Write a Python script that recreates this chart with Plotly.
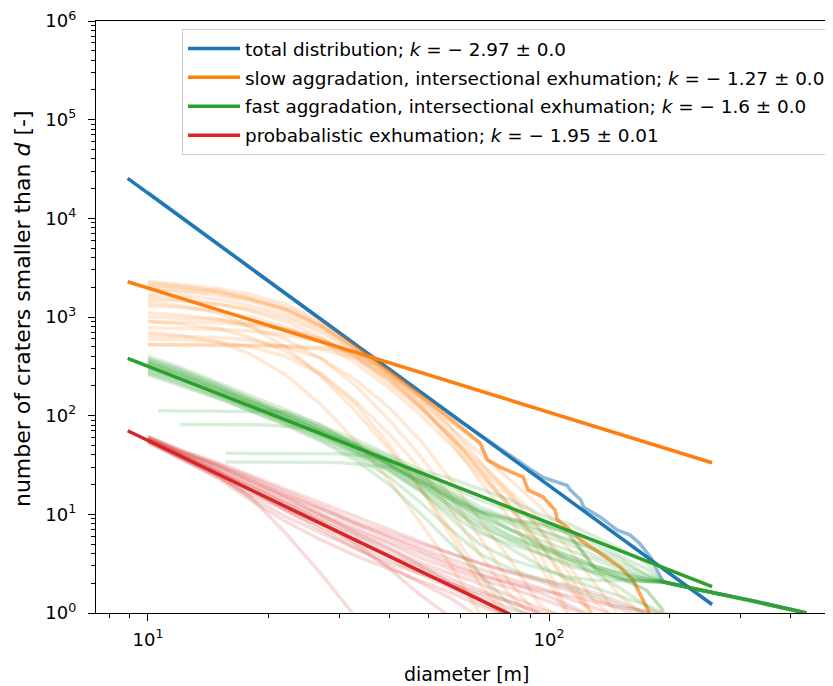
import plotly.graph_objects as go

# ---------------- fitted power-law lines (end points)
FIT_X = [8.9, 255]
FIT_TOTAL = [25400, 1.22]
FIT_SLOW = [2275, 33.3]
FIT_FAST = [381, 1.85]
FIT_PROB = [70.3, 0.101]

LABELS = [
    "total distribution; <i>k</i> = − 2.97 ± 0.0",
    "slow aggradation, intersectional exhumation; <i>k</i> = − 1.27 ± 0.0",
    "fast aggradation, intersectional exhumation; <i>k</i> = − 1.6 ± 0.0",
    "probabalistic exhumation; <i>k</i> = − 1.95 ± 0.01",
]

# ---------------- total distribution (single curve)
BLUE_X = [10, 15, 20, 30, 40, 50, 60, 70, 80, 90, 97, 105, 111, 113, 120, 122, 134,
          148, 159, 168, 179, 186, 193, 238, 317, 438]
BLUE_Y = [18300, 5400, 2300, 690, 290, 150, 88, 57, 39, 28.5, 23.5, 21, 19.6, 17.6, 14,
          11.8, 9.4, 6.9, 6.2, 5.1, 3.7, 2.7, 2.06, 1.71, 1.35, 1.0]

# ---------------- slow aggradation runs
ORANGE_HEAD_X = [10, 12, 15, 18, 22, 27, 33, 40, 48, 57]
ORANGE_TAIL_X = [67.3, 70.2, 75.5, 86.2, 88.7, 96.6, 103.6, 104.8, 110.9, 119.6, 134,
                 150.3, 161.9, 175.6, 178]
ORANGE_TAIL_Y = [52.7, 35.5, 30.1, 23.8, 17.6, 15.0, 11.0, 8.8, 7.4, 5.5, 4.05, 2.92,
                 2.16, 1.15, 1.0]
ORANGE_TAIL_HEADS = [
    [2300, 2150, 1950, 1700, 1350, 900, 520, 290, 165, 95],
    [2100, 2000, 1800, 1550, 1250, 850, 500, 280, 160, 92],
    [1900, 1800, 1650, 1450, 1150, 800, 480, 275, 158, 90],
    [1700, 1650, 1500, 1300, 1050, 750, 460, 270, 155, 88],
    [1500, 1450, 1350, 1200, 980, 700, 440, 260, 150, 86],
    [2000, 1900, 1750, 1500, 1200, 820, 490, 285, 162, 93],
]
ORANGE_X = [10, 12, 15, 18, 22, 27, 33, 40, 48, 57, 67, 80, 95, 112, 130, 150, 175]
ORANGE_RUNS = [
    [2200, 2050, 1850, 1550, 1200, 800, 470, 260, 140, 75, 42, 22, 12, 6, 3, 1.5, 0.9],
    [1600, 1500, 1350, 1150, 900, 620, 380, 210, 115, 60, 33, 17, 9, 4.5, 2, 0.9, None],
    [1300, 1250, 1150, 1000, 800, 560, 340, 190, 100, 50, 25, 12, 5, 2, 0.9, None, None],
    [1000, 980, 940, 870, 760, 600, 400, 230, 120, 60, 28, 12, 5, 1.8, 0.9, None, None],
    [900, 890, 870, 830, 750, 600, 420, 250, 130, 65, 30, 15, 7, 3, 1.3, 0.8, None],
    [780, 770, 750, 720, 660, 560, 400, 240, 125, 55, 22, 9, 3, 0.9, None, None, None],
    [650, 640, 620, 580, 500, 380, 230, 120, 55, 22, 9, 3.5, 1.2, 0.8, None, None, None],
    [530, 528, 525, 520, 510, 490, 440, 280, 150, 75, 35, 16, 7, 2.5, 0.9, None, None],
    [520, 518, 515, 510, 500, 470, 380, 230, 120, 60, 28, 12, 4, 1, None, None, None],
    [1400, 1300, 1100, 800, 500, 250, 110, 45, 18, 7, 2.5, 0.9, None, None, None, None, None],
    [700, 650, 560, 420, 260, 130, 55, 22, 8, 3, 1.0, None, None, None, None, None, None],
    [1100, 1050, 950, 800, 600, 380, 200, 90, 38, 15, 6, 2, 0.9, None, None, None, None],
    [900, 850, 760, 620, 450, 270, 140, 65, 28, 11, 4, 1.5, 0.8, None, None, None, None],
    [600, 590, 560, 500, 400, 260, 130, 50, 18, 6, 2, 0.8, None, None, None, None, None],
]

# ---------------- fast aggradation runs
GREEN_X = [10, 12, 15, 18, 22, 27, 33, 40, 48, 57, 67, 80, 95, 112, 130, 150, 175, 193,
           238, 317, 438]
GREEN_RUNS = [
    [400, 310, 215, 160, 115, 80, 57, 40, 28, 23, 18, 14, 10, 8, 6, 4.5, 3.2, 2.06, 1.71, 1.35, 1.0],
    [380, 295, 205, 150, 108, 76, 54, 38, 26, 19, 14, 11, 8.5, 6.5, 5, 3.8, 2.8, 2.06, 1.71, 1.35, 1.0],
    [360, 280, 195, 145, 104, 73, 51, 36, 25, 17, 12, 9, 7, 5.5, 4.3, 3.3, 2.5, 2.06, 1.71, 1.35, 1.0],
    [340, 265, 185, 138, 100, 70, 49, 34, 23, 15, 10.5, 8, 6.2, 5, 3.8, 3.0, 2.3, 2.06, 1.71, 1.35, 1.0],
    [330, 255, 180, 134, 97, 68, 47, 32, 22, 14, 9.5, 7, 5.5, 4.3, 3.5, 2.8, 2.2, 2.06, 1.71, 1.35, 1.0],
    [310, 245, 172, 128, 93, 65, 45, 31, 20, 13, 8.5, 6, 4.8, 3.8, 3.0, 2.5, 2.1, 2.06, 1.71, 1.35, 1.0],
    [300, 235, 165, 124, 90, 63, 43, 29, 18, 11, 7.5, 5.5, 4.5, 3.5, 2.8, 2.3, 2.1, 2.06, 1.71, 1.35, 1.0],
    [280, 220, 158, 118, 86, 60, 41, 27, 17, 10, 6.5, 5, 4, 3.2, 2.6, 2.2, 2.1, 2.06, 1.71, 1.35, 1.0],
    [350, 270, 190, 140, 100, 70, 48, 33, 22, 15, 11, 9, 8, 6.5, 2.8, 2.3, 1.7, 1.05, None, None, None],
    [345, 265, 186, 137, 98, 69, 47, 32, 21, 14, 10.5, 8.8, 7.8, 6.4, 2.8, 2.3, 1.7, 1.05, None, None, None],
    [260, 205, 150, 112, 80, 55, 35, 20, 10, 5, 2.5, 1.2, 0.8, None, None, None, None, None, None, None, None],
    [320, 250, 175, 130, 94, 66, 45, 30, 19, 12, 7, 4.5, 3, 2.2, 1.8, 1.5, 1.2, 1.0, None, None, None],
    [290, 228, 162, 120, 88, 62, 42, 28, 17, 9, 5, 3.5, 2.8, 2.3, 2.15, 2.1, 2.08, 2.06, 1.71, 1.35, 1.0],
    [270, 210, 150, 113, 82, 57, 38, 24, 13, 7, 4, 2.8, 2.2, 1.8, 1.5, 1.2, 1.0, None, None, None, None],
    [370, 290, 200, 148, 106, 75, 52, 36, 24, 16, 11, 8.5, 6.8, 5.5, 4.5, 3.6, 2.4, 2.06, 1.71, 1.35, 1.0],
]
GREEN_LATE_X = [
    [10.6, 22, 27, 33, 40, 48, 57, 67, 80, 95, 112, 150, 193, 238, 317, 438],
    [12.0, 19.3, 25, 33, 40, 57, 80, 112, 150, 193, 238, 317, 438],
    [15.6, 30, 38, 45, 57, 80, 112, 150, 193],
    [15.6, 30, 40, 50, 67, 95, 130, 175, 193, 238, 317, 438],
]
GREEN_LATE_Y = [
    [112, 110, 80, 50, 32, 20, 12, 8, 5.5, 4, 3, 2.2, 2.06, 1.71, 1.35, 1.0],
    [81.6, 81, 75, 50, 32, 14, 6, 3.5, 2.5, 2.06, 1.71, 1.35, 1.0],
    [41.5, 41, 38, 28, 16, 7, 3.5, 1.8, 0.9],
    [34, 33.5, 30, 20, 10, 5, 3, 2.2, 2.06, 1.71, 1.35, 1.0],
]

# ---------------- probabilistic exhumation runs
RED_X = [10, 12, 15, 18, 22, 27, 33, 40, 48, 57, 67, 80, 95, 112, 130, 150, 175, 240]
RED_RUNS = [
    [62, 45, 32, 24, 17, 12, 8.5, 6.5, 5, 4, 3.2, 2.6, 2.1, 1.7, 1.4, 1.1, 0.9, None],
    [60, 44, 31, 22, 15.5, 11, 8, 6, 4.5, 3.5, 2.8, 2.2, 1.8, 1.4, 1.1, 0.9, None, None],
    [58, 42, 29, 21, 14.5, 10, 7.2, 5.3, 4, 3, 2.4, 2, 1.6, 1.2, 0.9, None, None, None],
    [57, 41, 28, 20, 13.5, 9.5, 6.8, 5, 3.6, 2.8, 2.2, 1.8, 1.4, 1.1, 0.9, None, None, None],
    [56, 40, 27, 19, 13, 9, 6.2, 4.4, 3.2, 2.5, 2, 1.5, 1.1, 0.9, None, None, None, None],
    [55, 39, 26, 18, 12, 8.5, 6, 4, 3, 2.2, 1.7, 1.3, 1.0, 0.9, None, None, None, None],
    [54, 38, 25, 17, 11.5, 8, 5.5, 3.8, 2.8, 2, 1.5, 1.1, 0.9, None, None, None, None, None],
    [53, 37, 24, 16, 11, 7.5, 5, 3.5, 2.5, 1.8, 1.3, 0.9, None, None, None, None, None, None],
    [60, 43, 30, 22, 15, 10, 6.5, 4.5, 3, 2, 1.4, 0.9, None, None, None, None, None, None],
    [58, 41, 27, 18, 11, 7, 4.5, 3, 2, 1.4, 0.9, None, None, None, None, None, None, None],
    [56, 40, 25, 15, 6.5, 2.5, 0.9, None, None, None, None, None, None, None, None, None, None, None],
    [57, 40, 27, 19, 13, 8.5, 5, 2.8, 1.5, 0.9, None, None, None, None, None, None, None, None],
    [61, 45, 33, 25, 18, 13, 9.5, 7, 5.2, 4, 3.2, 2.6, 2.2, 1.9, 1.6, 1.3, 1.0, None],
    [55, 37, 23, 14, 8.5, 5.5, 3.8, 2.8, 2.1, 1.6, 1.2, 0.9, None, None, None, None, None, None],
    [56, 38, 24, 15, 9.5, 6.5, 4.5, 3.2, 2.5, 2, 1.6, 1.3, 1.0, None, None, None, None, None],
    [59, 43, 31, 23, 16, 11.5, 8, 5.8, 4.2, 3.2, 2.5, 2, 1.7, 1.5, 1.3, 1.15, 1.05, 0.9],
]

Y_TICKS = [1, 10, 100, 1000, 10000, 100000, 1000000]
Y_TICK_TEXT = ["10<sup>0</sup>", "10<sup>1</sup>", "10<sup>2</sup>", "10<sup>3</sup>",
               "10<sup>4</sup>", "10<sup>5</sup>", "10<sup>6</sup>"]
X_TICKS = [10, 100]
X_TICK_TEXT = ["10<sup>1</sup>", "10<sup>2</sup>"]

BLUE = "#1f77b4"
ORANGE = "#ff7f0e"
GREEN = "#2ca02c"
RED = "#d62728"
LW = 3.5

fig = go.Figure()


def run(x, y, color):
    fig.add_trace(go.Scatter(x=x, y=y, mode="lines", showlegend=False,
                             hoverinfo="skip",
                             line=dict(color=color, width=LW)))


def fit(y, color, name, grp):
    fig.add_trace(go.Scatter(x=FIT_X, y=y, mode="lines", name=name,
                             legendgroup=grp,
                             line=dict(color=color, width=LW)))


# total
run(BLUE_X, BLUE_Y, "rgba(31,119,180,0.5)")
fit(FIT_TOTAL, BLUE, LABELS[0], "a")

# slow
oc = "rgba(255,127,14,0.17)"
for head in ORANGE_TAIL_HEADS:
    run(ORANGE_HEAD_X + ORANGE_TAIL_X, head + ORANGE_TAIL_Y, oc)
for ys in ORANGE_RUNS:
    run(ORANGE_X, ys, oc)
fit(FIT_SLOW, ORANGE, LABELS[1], "b")

# fast
gc = "rgba(44,160,44,0.18)"
for ys in GREEN_RUNS:
    run(GREEN_X, ys, gc)
for xs, ys in zip(GREEN_LATE_X, GREEN_LATE_Y):
    run(xs, ys, gc)
fit(FIT_FAST, GREEN, LABELS[2], "c")

# probabilistic
rc = "rgba(214,39,40,0.17)"
for ys in RED_RUNS:
    run(RED_X, ys, rc)
fit(FIT_PROB, RED, LABELS[3], "d")

minor_vals = [m * 10 ** e for e in range(-1, 7) for m in range(2, 10)]

axis_common = dict(
    type="log", showline=True, linecolor="black", linewidth=1.3,
    ticks="outside", ticklen=7, tickwidth=1.3, tickcolor="black",
    showgrid=False, zeroline=False, tickmode="array", automargin=False,
    tickfont=dict(size=18, color="black"), ticklabeloverflow="allow",
    minor=dict(ticks="outside", ticklen=4, tickwidth=1, tickcolor="black",
               showgrid=False, tickmode="array", tickvals=minor_vals),
)

fig.update_xaxes(range=[0.8704, 2.708], tickvals=X_TICKS, ticktext=X_TICK_TEXT,
                 mirror=True, ticklabelstandoff=3, **axis_common)
fig.update_yaxes(range=[0, 6], tickvals=Y_TICKS, ticktext=Y_TICK_TEXT,
                 ticklabelstandoff=8, **axis_common)

# the page adds an 8 px body margin, so the figure is 8 px smaller and
# everything sits 8 px up/left of the reference pixel positions
fig.update_layout(
    width=825, height=678,
    margin=dict(l=88, r=0, t=13, b=73),
    plot_bgcolor="white", paper_bgcolor="white",
    font=dict(family="DejaVu Sans", size=18, color="black"),
    legend=dict(x=0.1167, y=0.9865, xanchor="left", yanchor="top",
                bgcolor="rgba(255,255,255,0.8)", bordercolor="#cccccc",
                borderwidth=1, font=dict(size=18.4), tracegroupgap=2,
                itemwidth=52),
    annotations=[
        dict(text="diameter [m]", xref="paper", yref="paper", x=0.504, y=-0.103,
             xanchor="center", yanchor="middle", showarrow=False,
             font=dict(size=19)),
        dict(text="number of craters smaller than <i>d</i> [-]", xref="paper",
             yref="paper", x=-0.1004, y=0.5135, xanchor="center",
             yanchor="middle", textangle=-90, showarrow=False,
             font=dict(size=22)),
    ],
)

fig.write_html("out.html")
